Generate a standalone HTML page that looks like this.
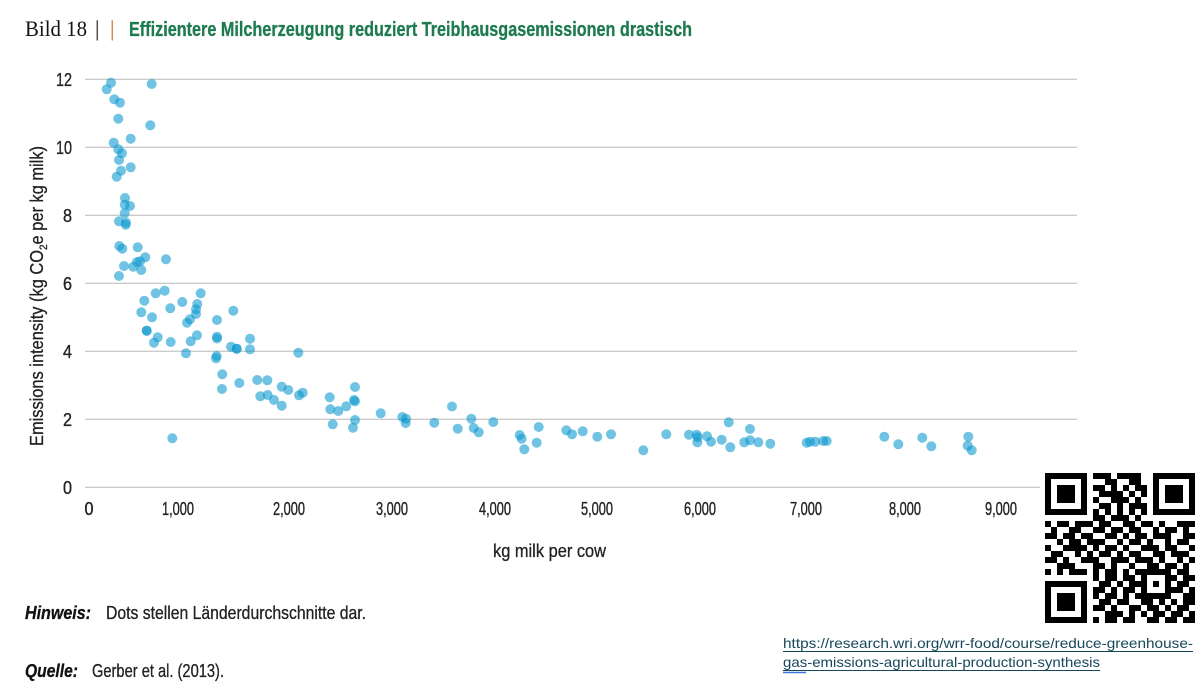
<!DOCTYPE html>
<html><head><meta charset="utf-8"><style>
html,body{margin:0;padding:0;background:#fff;}
svg{display:block;}
text{font-family:"Liberation Sans Narrow","Liberation Sans",sans-serif;}
</style></head><body>
<svg width="1200" height="684" viewBox="0 0 1200 684" xmlns="http://www.w3.org/2000/svg">
<rect width="1200" height="684" fill="#fff"/>
<!-- title -->
<text x="25" y="36" style="font-family:'Liberation Serif',serif" font-size="22" fill="#111" textLength="62" lengthAdjust="spacingAndGlyphs">Bild 18</text>
<text x="95" y="36" style="font-family:'Liberation Serif',serif" font-size="22" fill="#111">|</text>
<text x="110" y="36" style="font-family:'Liberation Serif',serif" font-size="22" fill="#c0651c">|</text>
<text x="129" y="36" font-size="20" font-weight="bold" fill="#1e7b4e" stroke="#1e7b4e" stroke-width="0.3" textLength="563" lengthAdjust="spacingAndGlyphs">Effizientere Milcherzeugung reduziert Treibhausgasemissionen drastisch</text>

<!-- gridlines -->
<g stroke="#cbcbcb" stroke-width="1.3">
<line x1="85" y1="79.3" x2="1077" y2="79.3"/>
<line x1="85" y1="147.3" x2="1077" y2="147.3"/>
<line x1="85" y1="215.3" x2="1077" y2="215.3"/>
<line x1="85" y1="283.3" x2="1077" y2="283.3"/>
<line x1="85" y1="351.3" x2="1077" y2="351.3"/>
<line x1="85" y1="419.3" x2="1077" y2="419.3"/>
<line x1="85" y1="487.3" x2="1077" y2="487.3"/>
</g>

<!-- y tick labels -->
<g font-size="18" fill="#222" stroke="#222" stroke-width="0.35" text-anchor="end">
<text x="72" y="86" textLength="16" lengthAdjust="spacingAndGlyphs">12</text>
<text x="72" y="154" textLength="16" lengthAdjust="spacingAndGlyphs">10</text>
<text x="72" y="222" textLength="9" lengthAdjust="spacingAndGlyphs">8</text>
<text x="72" y="290" textLength="9" lengthAdjust="spacingAndGlyphs">6</text>
<text x="72" y="358" textLength="9" lengthAdjust="spacingAndGlyphs">4</text>
<text x="72" y="426" textLength="9" lengthAdjust="spacingAndGlyphs">2</text>
<text x="72" y="494" textLength="9" lengthAdjust="spacingAndGlyphs">0</text>
</g>

<!-- x tick labels -->
<g font-size="18" fill="#222" stroke="#222" stroke-width="0.35" text-anchor="middle">
<text x="89" y="515" textLength="9" lengthAdjust="spacingAndGlyphs">0</text>
<text x="178" y="515" textLength="32" lengthAdjust="spacingAndGlyphs">1,000</text>
<text x="289" y="515" textLength="32" lengthAdjust="spacingAndGlyphs">2,000</text>
<text x="392" y="515" textLength="32" lengthAdjust="spacingAndGlyphs">3,000</text>
<text x="495" y="515" textLength="32" lengthAdjust="spacingAndGlyphs">4,000</text>
<text x="597" y="515" textLength="32" lengthAdjust="spacingAndGlyphs">5,000</text>
<text x="700" y="515" textLength="32" lengthAdjust="spacingAndGlyphs">6,000</text>
<text x="806" y="515" textLength="32" lengthAdjust="spacingAndGlyphs">7,000</text>
<text x="905" y="515" textLength="32" lengthAdjust="spacingAndGlyphs">8,000</text>
<text x="1001" y="515" textLength="32" lengthAdjust="spacingAndGlyphs">9,000</text>
</g>

<!-- axis titles -->
<text x="493" y="557" font-size="18" fill="#222" stroke="#222" stroke-width="0.3" textLength="113" lengthAdjust="spacingAndGlyphs">kg milk per cow</text>
<text transform="translate(43,296) rotate(-90)" text-anchor="middle" font-size="18" fill="#222" stroke="#222" stroke-width="0.3" textLength="300" lengthAdjust="spacingAndGlyphs">Emissions intensity (kg CO<tspan font-size="11" dy="4">2</tspan><tspan dy="-4">e per kg milk)</tspan></text>

<!-- dots -->
<g fill="#0a98cf" fill-opacity="0.58">
<circle cx="106.7" cy="89.3" r="5"/>
<circle cx="111" cy="82.7" r="5"/>
<circle cx="151.7" cy="84" r="5"/>
<circle cx="114.3" cy="99.3" r="5"/>
<circle cx="120" cy="102.7" r="5"/>
<circle cx="118.3" cy="118.7" r="5"/>
<circle cx="150.3" cy="125.3" r="5"/>
<circle cx="113.7" cy="142.7" r="5"/>
<circle cx="130.7" cy="138.7" r="5"/>
<circle cx="118.3" cy="149.3" r="5"/>
<circle cx="122" cy="153.3" r="5"/>
<circle cx="119" cy="160" r="5"/>
<circle cx="130.7" cy="167.3" r="5"/>
<circle cx="121" cy="170.7" r="5"/>
<circle cx="116.7" cy="176.7" r="5"/>
<circle cx="125" cy="198" r="5"/>
<circle cx="124.7" cy="204.7" r="5"/>
<circle cx="130" cy="206" r="5"/>
<circle cx="124.7" cy="213.3" r="5"/>
<circle cx="119" cy="221.3" r="5"/>
<circle cx="126" cy="222.7" r="5"/>
<circle cx="125.7" cy="224.7" r="5"/>
<circle cx="119.3" cy="246" r="5"/>
<circle cx="122.3" cy="248.7" r="5"/>
<circle cx="137.7" cy="247.3" r="5"/>
<circle cx="145.3" cy="257.3" r="5"/>
<circle cx="166" cy="259.3" r="5"/>
<circle cx="140" cy="261.3" r="5"/>
<circle cx="137" cy="262" r="5"/>
<circle cx="133.3" cy="266.7" r="5"/>
<circle cx="124" cy="266" r="5"/>
<circle cx="141.3" cy="270" r="5"/>
<circle cx="119" cy="276" r="5"/>
<circle cx="164.7" cy="290.7" r="5"/>
<circle cx="155.7" cy="293.3" r="5"/>
<circle cx="200.7" cy="293.3" r="5"/>
<circle cx="144.3" cy="300.7" r="5"/>
<circle cx="182.3" cy="302" r="5"/>
<circle cx="170.3" cy="308.3" r="5"/>
<circle cx="197.3" cy="304" r="5"/>
<circle cx="196" cy="309.3" r="5"/>
<circle cx="233.3" cy="310.7" r="5"/>
<circle cx="141.3" cy="312.3" r="5"/>
<circle cx="196" cy="314" r="5"/>
<circle cx="152" cy="317.3" r="5"/>
<circle cx="190" cy="319.3" r="5"/>
<circle cx="187" cy="322.7" r="5"/>
<circle cx="217" cy="320" r="5"/>
<circle cx="146.7" cy="330.7" r="5"/>
<circle cx="146.7" cy="330.7" r="5"/>
<circle cx="197" cy="335.3" r="5"/>
<circle cx="157.7" cy="337.3" r="5"/>
<circle cx="217" cy="336.7" r="5"/>
<circle cx="217" cy="338.5" r="5"/>
<circle cx="250" cy="338.7" r="5"/>
<circle cx="190.7" cy="341.3" r="5"/>
<circle cx="154" cy="342.7" r="5"/>
<circle cx="170.7" cy="342" r="5"/>
<circle cx="231" cy="346.7" r="5"/>
<circle cx="236.7" cy="348.7" r="5"/>
<circle cx="236.7" cy="348.7" r="5"/>
<circle cx="250" cy="349.3" r="5"/>
<circle cx="186" cy="353.3" r="5"/>
<circle cx="216.7" cy="356" r="5"/>
<circle cx="216" cy="358.3" r="5"/>
<circle cx="298.3" cy="352.7" r="5"/>
<circle cx="222.3" cy="374.3" r="5"/>
<circle cx="239.3" cy="383" r="5"/>
<circle cx="222" cy="389" r="5"/>
<circle cx="257.3" cy="380" r="5"/>
<circle cx="267.3" cy="380.3" r="5"/>
<circle cx="281.7" cy="386.7" r="5"/>
<circle cx="288.3" cy="390" r="5"/>
<circle cx="260.3" cy="396.3" r="5"/>
<circle cx="267.7" cy="395" r="5"/>
<circle cx="274" cy="400" r="5"/>
<circle cx="281.7" cy="405.7" r="5"/>
<circle cx="299" cy="395.3" r="5"/>
<circle cx="302.7" cy="392.7" r="5"/>
<circle cx="329.7" cy="397.3" r="5"/>
<circle cx="355" cy="387" r="5"/>
<circle cx="355" cy="401.3" r="5"/>
<circle cx="354" cy="400" r="5"/>
<circle cx="346.3" cy="406.3" r="5"/>
<circle cx="330.3" cy="409.3" r="5"/>
<circle cx="338.3" cy="411" r="5"/>
<circle cx="380.7" cy="413.3" r="5"/>
<circle cx="402.3" cy="417" r="5"/>
<circle cx="406" cy="418.7" r="5"/>
<circle cx="405.7" cy="423" r="5"/>
<circle cx="355" cy="420" r="5"/>
<circle cx="332.7" cy="424.3" r="5"/>
<circle cx="353" cy="427.7" r="5"/>
<circle cx="434.3" cy="422.7" r="5"/>
<circle cx="452" cy="406.5" r="5"/>
<circle cx="172.3" cy="438.3" r="5"/>
<circle cx="471.3" cy="418.7" r="5"/>
<circle cx="457.7" cy="428.7" r="5"/>
<circle cx="473.7" cy="428" r="5"/>
<circle cx="478.7" cy="432.3" r="5"/>
<circle cx="493.3" cy="422" r="5"/>
<circle cx="519.7" cy="435" r="5"/>
<circle cx="521.7" cy="438.7" r="5"/>
<circle cx="524.3" cy="449.3" r="5"/>
<circle cx="538.7" cy="427" r="5"/>
<circle cx="536.7" cy="442.7" r="5"/>
<circle cx="566.3" cy="430.3" r="5"/>
<circle cx="572" cy="434.3" r="5"/>
<circle cx="582.7" cy="431.3" r="5"/>
<circle cx="597.3" cy="436.7" r="5"/>
<circle cx="611" cy="434.3" r="5"/>
<circle cx="643.3" cy="450.3" r="5"/>
<circle cx="666.3" cy="434.3" r="5"/>
<circle cx="689" cy="434.7" r="5"/>
<circle cx="696.7" cy="434.7" r="5"/>
<circle cx="697.7" cy="437.3" r="5"/>
<circle cx="697.3" cy="442.3" r="5"/>
<circle cx="707" cy="436.3" r="5"/>
<circle cx="711" cy="441.7" r="5"/>
<circle cx="721.7" cy="439.7" r="5"/>
<circle cx="728.7" cy="422.3" r="5"/>
<circle cx="730.3" cy="447.3" r="5"/>
<circle cx="750" cy="429" r="5"/>
<circle cx="744.3" cy="442.3" r="5"/>
<circle cx="750" cy="440.3" r="5"/>
<circle cx="758.3" cy="442.3" r="5"/>
<circle cx="770.3" cy="443.7" r="5"/>
<circle cx="806.7" cy="442.7" r="5"/>
<circle cx="810" cy="441.7" r="5"/>
<circle cx="815.3" cy="441.7" r="5"/>
<circle cx="823.3" cy="441" r="5"/>
<circle cx="826.7" cy="441" r="5"/>
<circle cx="884.3" cy="436.7" r="5"/>
<circle cx="898.3" cy="444.3" r="5"/>
<circle cx="922.3" cy="437.7" r="5"/>
<circle cx="931.3" cy="446.3" r="5"/>
<circle cx="968.3" cy="436.7" r="5"/>
<circle cx="967.7" cy="445.7" r="5"/>
<circle cx="971.7" cy="450.3" r="5"/>
</g>

<!-- QR code -->
<rect x="1040" y="468" width="160" height="162" fill="#fff"/>
<g transform="translate(1045,473) scale(6)">
<path fill="#000" shape-rendering="crispEdges" d="
M0 0h7v1h-7zM8 0h3v1h-3zM12 0h4v1h-4zM18 0h7v1h-7z
M0 1h1v1h-1zM6 1h1v1h-1zM10 1h2v1h-2zM14 1h2v1h-2zM18 1h1v1h-1zM24 1h1v1h-1z
M0 2h1v1h-1zM2 2h3v1h-3zM6 2h1v1h-1zM8 2h2v1h-2zM11 2h1v1h-1zM13 2h1v1h-1zM15 2h2v1h-2zM18 2h1v1h-1zM20 2h3v1h-3zM24 2h1v1h-1z
M0 3h1v1h-1zM2 3h3v1h-3zM6 3h1v1h-1zM9 3h4v1h-4zM14 3h1v1h-1zM16 3h1v1h-1zM18 3h1v1h-1zM20 3h3v1h-3zM24 3h1v1h-1z
M0 4h1v1h-1zM2 4h3v1h-3zM6 4h1v1h-1zM8 4h1v1h-1zM11 4h3v1h-3zM15 4h1v1h-1zM18 4h1v1h-1zM20 4h3v1h-3zM24 4h1v1h-1z
M0 5h1v1h-1zM6 5h1v1h-1zM9 5h2v1h-2zM12 5h1v1h-1zM14 5h3v1h-3zM18 5h1v1h-1zM24 5h1v1h-1z
M0 6h7v1h-7zM8 6h1v1h-1zM10 6h1v1h-1zM12 6h1v1h-1zM14 6h1v1h-1zM16 6h1v1h-1zM18 6h7v1h-7z
M8 7h2v1h-2zM11 7h3v1h-3zM15 7h1v1h-1z
M0 8h1v1h-1zM2 8h2v1h-2zM5 8h3v1h-3zM9 8h2v1h-2zM13 8h2v1h-2zM16 8h2v1h-2zM19 8h1v1h-1zM22 8h3v1h-3z
M1 9h1v1h-1zM4 9h2v1h-2zM8 9h2v1h-2zM11 9h2v1h-2zM14 9h2v1h-2zM18 9h1v1h-1zM20 9h2v1h-2zM23 9h1v1h-1z
M0 10h2v1h-2zM3 10h2v1h-2zM6 10h2v1h-2zM10 10h2v1h-2zM13 10h1v1h-1zM15 10h2v1h-2zM18 10h3v1h-3zM23 10h2v1h-2z
M2 11h1v1h-1zM4 11h2v1h-2zM7 11h3v1h-3zM12 11h1v1h-1zM14 11h2v1h-2zM17 11h1v1h-1zM20 11h1v1h-1zM22 11h2v1h-2z
M0 12h1v1h-1zM3 12h4v1h-4zM8 12h1v1h-1zM10 12h2v1h-2zM13 12h1v1h-1zM16 12h3v1h-3zM20 12h2v1h-2zM24 12h1v1h-1z
M1 13h2v1h-2zM5 13h1v1h-1zM7 13h1v1h-1zM9 13h2v1h-2zM12 13h1v1h-1zM14 13h2v1h-2zM18 13h2v1h-2zM21 13h3v1h-3z
M0 14h2v1h-2zM3 14h1v1h-1zM6 14h3v1h-3zM11 14h3v1h-3zM15 14h3v1h-3zM19 14h1v1h-1zM22 14h1v1h-1zM24 14h1v1h-1z
M2 15h3v1h-3zM8 15h2v1h-2zM11 15h1v1h-1zM14 15h1v1h-1zM17 15h2v1h-2zM20 15h2v1h-2zM23 15h1v1h-1z
M0 16h1v1h-1zM2 16h1v1h-1zM4 16h3v1h-3zM8 16h1v1h-1zM10 16h2v1h-2zM13 16h1v1h-1zM15 16h6v1h-6zM22 16h2v1h-2z
M8 17h1v1h-1zM10 17h2v1h-2zM13 17h2v1h-2zM16 17h1v1h-1zM20 17h2v1h-2zM23 17h2v1h-2z
M0 18h7v1h-7zM9 18h2v1h-2zM12 18h1v1h-1zM14 18h3v1h-3zM18 18h1v1h-1zM20 18h1v1h-1zM22 18h2v1h-2z
M0 19h1v1h-1zM6 19h1v1h-1zM8 19h2v1h-2zM11 19h1v1h-1zM13 19h2v1h-2zM16 19h1v1h-1zM20 19h3v1h-3zM24 19h1v1h-1z
M0 20h1v1h-1zM2 20h3v1h-3zM6 20h1v1h-1zM8 20h1v1h-1zM10 20h2v1h-2zM13 20h1v1h-1zM15 20h6v1h-6zM23 20h2v1h-2z
M0 21h1v1h-1zM2 21h3v1h-3zM6 21h1v1h-1zM9 21h2v1h-2zM12 21h2v1h-2zM16 21h2v1h-2zM19 21h1v1h-1zM21 21h1v1h-1zM23 21h2v1h-2z
M0 22h1v1h-1zM2 22h3v1h-3zM6 22h1v1h-1zM8 22h2v1h-2zM11 22h1v1h-1zM14 22h2v1h-2zM17 22h2v1h-2zM20 22h1v1h-1zM22 22h2v1h-2z
M0 23h1v1h-1zM6 23h1v1h-1zM10 23h3v1h-3zM14 23h1v1h-1zM16 23h1v1h-1zM18 23h2v1h-2zM21 23h2v1h-2zM24 23h1v1h-1z
M0 24h7v1h-7zM8 24h1v1h-1zM10 24h2v1h-2zM13 24h2v1h-2zM17 24h2v1h-2zM20 24h2v1h-2zM23 24h2v1h-2z"/>
</g>

<!-- notes -->
<text x="25" y="619" font-size="18" font-weight="bold" font-style="italic" fill="#111" stroke="#111" stroke-width="0.3" textLength="66" lengthAdjust="spacingAndGlyphs">Hinweis:</text>
<text x="106" y="619" font-size="18" fill="#222" stroke="#222" stroke-width="0.3" textLength="260" lengthAdjust="spacingAndGlyphs">Dots stellen Länderdurchschnitte dar.</text>
<text x="25" y="677" font-size="18" font-weight="bold" font-style="italic" fill="#111" stroke="#111" stroke-width="0.3" textLength="53" lengthAdjust="spacingAndGlyphs">Quelle:</text>
<text x="92" y="677" font-size="18" fill="#222" stroke="#222" stroke-width="0.3" textLength="132" lengthAdjust="spacingAndGlyphs">Gerber et al. (2013).</text>

<!-- URL -->
<g font-size="14" fill="#17475a">
<text x="783" y="648" textLength="410" lengthAdjust="spacingAndGlyphs" style="font-family:'Liberation Sans',sans-serif">https://research.wri.org/wrr-food/course/reduce-greenhouse-</text>
<text x="783" y="667" textLength="317" lengthAdjust="spacingAndGlyphs" style="font-family:'Liberation Sans',sans-serif">gas-emissions-agricultural-production-synthesis</text>
</g>
<line x1="783" y1="651.5" x2="1193" y2="651.5" stroke="#17475a" stroke-width="1"/>
<line x1="783" y1="670.5" x2="1100" y2="670.5" stroke="#17475a" stroke-width="1"/>
<line x1="783" y1="672.5" x2="806" y2="672.5" stroke="#3b74d9" stroke-width="1.5"/>
</svg>
</body></html>
